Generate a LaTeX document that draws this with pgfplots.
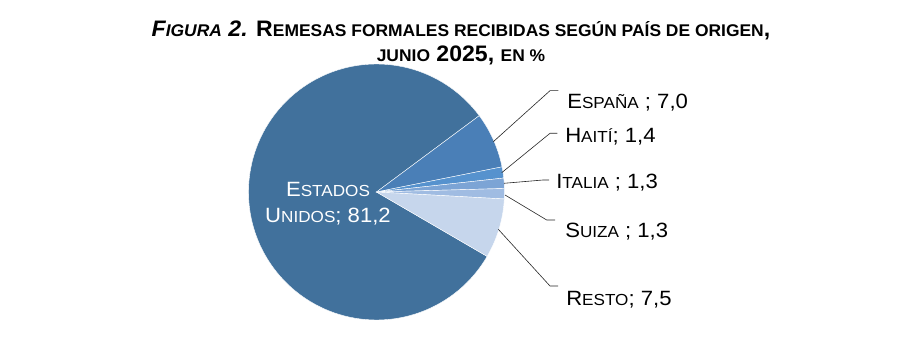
\documentclass[border=0pt]{standalone}
\usepackage{pgfplots}
\usepackage{pgfplotstable}
\pgfplotsset{compat=1.18}
\usepackage{fontspec}
\setmainfont{Liberation Sans}
\newfontfamily\labfont[FakeStretch=1.07]{Liberation Sans}
\newfontfamily\titfont[FakeStretch=1.03]{Liberation Sans}

\definecolor{cUS}{HTML}{41719C}
\definecolor{cEs}{HTML}{4A7FB7}
\definecolor{cHa}{HTML}{5692CE}
\definecolor{cIt}{HTML}{7CA4D5}
\definecolor{cSu}{HTML}{A0BCE2}
\definecolor{cRe}{HTML}{C6D6EC}

\newcommand\Lbig{\labfont\fontsize{15.5}{18}\selectfont}
\newcommand\Lsm[1]{{\fontsize{12}{14}\selectfont #1}}
\newcommand\Tbig{\fontsize{16.8}{19}\selectfont}
\newcommand\Tsm[1]{{\fontsize{12.7}{15}\selectfont #1}}

\pgfplotstableread{
name value
US 81.2
Espana 7.0
Haiti 1.4
Italia 1.3
Suiza 1.3
Resto 7.5
}\piedata

\pgfplotstablegetelem{0}{value}\of\piedata \let\vUS\pgfplotsretval
\pgfplotstablegetelem{1}{value}\of\piedata \let\vEs\pgfplotsretval
\pgfplotstablegetelem{2}{value}\of\piedata \let\vHa\pgfplotsretval
\pgfplotstablegetelem{3}{value}\of\piedata \let\vIt\pgfplotsretval
\pgfplotstablegetelem{4}{value}\of\piedata \let\vSu\pgfplotsretval
\pgfplotstablegetelem{5}{value}\of\piedata \let\vRe\pgfplotsretval

\pgfmathsetmacro\tot{\vUS+\vEs+\vHa+\vIt+\vSu+\vRe}
\pgfmathsetmacro\kdeg{360/\tot}
\pgfmathsetmacro\aA{36.6}
\pgfmathsetmacro\aB{\aA-\vEs*\kdeg}
\pgfmathsetmacro\aC{\aB-\vHa*\kdeg}
\pgfmathsetmacro\aD{\aC-\vIt*\kdeg}
\pgfmathsetmacro\aE{\aD-\vSu*\kdeg}
\pgfmathsetmacro\aF{\aE-\vRe*\kdeg}
\pgfmathsetmacro\aG{\aF-\vUS*\kdeg}

\def\cx{376.5}
\def\cy{162}
\def\rr{128}

\begin{document}
\begin{tikzpicture}
\begin{axis}[
  scale only axis, width=691.5pt, height=265.5pt,
  xmin=0, xmax=922, ymin=0, ymax=354,
  hide axis, clip=false,
]
\path (axis cs:0,0) rectangle (axis cs:922,354);
% wedges
\addplot[fill=cUS, draw=white, line width=0.3pt, domain=\aG:\aF, samples=120, variable=\t]
  ({\cx+\rr*cos(\t)},{\cy+\rr*sin(\t)}) -- (axis cs:\cx,\cy) -- cycle;
\addplot[fill=cEs, draw=white, line width=0.3pt, domain=\aB:\aA, samples=20, variable=\t]
  ({\cx+\rr*cos(\t)},{\cy+\rr*sin(\t)}) -- (axis cs:\cx,\cy) -- cycle;
\addplot[fill=cHa, draw=white, line width=0.3pt, domain=\aC:\aB, samples=8, variable=\t]
  ({\cx+\rr*cos(\t)},{\cy+\rr*sin(\t)}) -- (axis cs:\cx,\cy) -- cycle;
\addplot[fill=cIt, draw=white, line width=0.3pt, domain=\aD:\aC, samples=8, variable=\t]
  ({\cx+\rr*cos(\t)},{\cy+\rr*sin(\t)}) -- (axis cs:\cx,\cy) -- cycle;
\addplot[fill=cSu, draw=white, line width=0.3pt, domain=\aE:\aD, samples=8, variable=\t]
  ({\cx+\rr*cos(\t)},{\cy+\rr*sin(\t)}) -- (axis cs:\cx,\cy) -- cycle;
\addplot[fill=cRe, draw=white, line width=0.3pt, domain=\aF:\aE, samples=20, variable=\t]
  ({\cx+\rr*cos(\t)},{\cy+\rr*sin(\t)}) -- (axis cs:\cx,\cy) -- cycle;

% leader lines
\addplot[black!85, line width=0.45pt] coordinates {(493.3,212.3) (550,263.3) (558.3,263.3)};
\addplot[black!85, line width=0.45pt] coordinates {(501.7,181.3) (550,220.7) (557.3,220.7)};
\addplot[black!85, line width=0.45pt] coordinates {(504,170.7) (543,174) (549,174)};
\addplot[black!85, line width=0.45pt] coordinates {(505,159) (546.7,134) (555,134)};
\addplot[black!85, line width=0.45pt] coordinates {(498.3,124.7) (550,68) (558,68)};

% labels
\node[anchor=base west, inner sep=0pt] at (axis cs:567,245) {\Lbig E\Lsm{SPAÑA} ; 7,0};
\node[anchor=base west, inner sep=0pt] at (axis cs:565,211) {\Lbig H\Lsm{AITÍ}; 1,4};
\node[anchor=base west, inner sep=0pt] at (axis cs:556,165) {\Lbig I\Lsm{TALIA} ; 1,3};
\node[anchor=base west, inner sep=0pt] at (axis cs:565,116) {\Lbig S\Lsm{UIZA} ; 1,3};
\node[anchor=base west, inner sep=0pt] at (axis cs:566,49) {\Lbig R\Lsm{ESTO}; 7,5};
\node[anchor=base, inner sep=0pt, white] at (axis cs:328,157.3) {\Lbig E\Lsm{STADOS}};
\node[anchor=base, inner sep=0pt, white] at (axis cs:328,131.7) {\Lbig U\Lsm{NIDOS}; 81,2};

% title
\node[anchor=base, inner sep=0pt] at (axis cs:461,317.5) {\titfont\bfseries\Tbig
  \textit{F\Tsm{IGURA} 2.} R\Tsm{EMESAS FORMALES RECIBIDAS SEGÚN PAÍS DE ORIGEN},};
\node[anchor=base, inner sep=0pt] at (axis cs:461,292) {\titfont\bfseries\Tbig
  \Tsm{JUNIO} 2025, \Tsm{EN \%}};
\end{axis}
\end{tikzpicture}
\end{document}
